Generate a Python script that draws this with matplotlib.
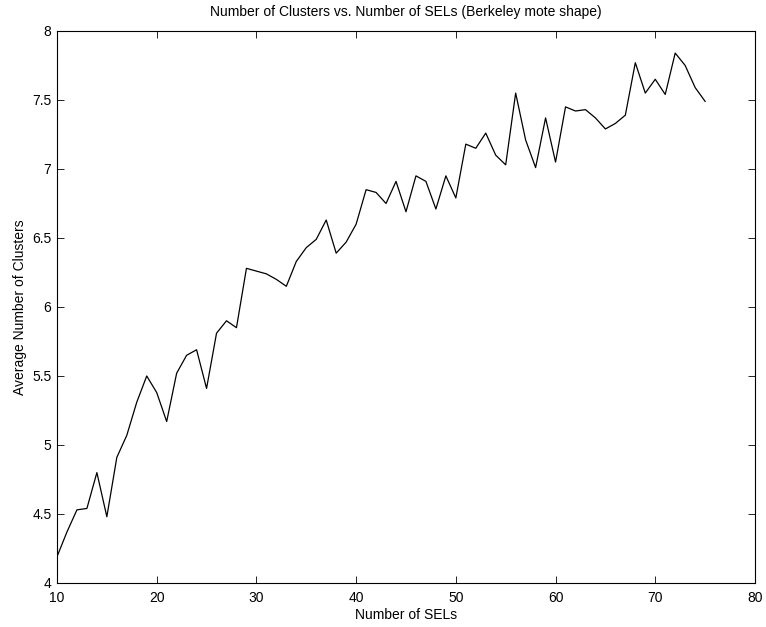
import numpy as np
import matplotlib
matplotlib.use("Agg")
import matplotlib.pyplot as plt

plt.rcParams['font.family'] = ['Liberation Sans', 'DejaVu Sans']

# number of SELs
sels = list(range(10, 76))
# average number of clusters
clusters = [4.19, 4.37, 4.53, 4.54, 4.80, 4.48, 4.91, 5.07, 5.31, 5.50,
            5.38, 5.17, 5.52, 5.65, 5.69, 5.41, 5.81, 5.90, 5.85, 6.28,
            6.26, 6.24, 6.20, 6.15, 6.33, 6.43, 6.49, 6.63, 6.39, 6.47,
            6.60, 6.85, 6.83, 6.75, 6.91, 6.69, 6.95, 6.91, 6.71, 6.95,
            6.79, 7.18, 7.15, 7.26, 7.10, 7.03, 7.55, 7.21, 7.01, 7.37,
            7.05, 7.45, 7.42, 7.43, 7.37, 7.29, 7.33, 7.39, 7.77, 7.55,
            7.65, 7.54, 7.84, 7.75, 7.59, 7.49]

fig = plt.figure(figsize=(7.66, 6.27), dpi=100)
ax = fig.add_axes([0.0744, 0.0702, 0.9112, 0.8804])
ax.plot(sels, clusters, color='black', linewidth=0.9)

ax.set_xlim(10, 80)
ax.set_ylim(4, 8)
ax.set_xticks(np.arange(10, 81, 10))
ax.set_yticks(np.arange(4, 8.01, 0.5))
ax.set_yticklabels(['4', '4.5', '5', '5.5', '6', '6.5', '7', '7.5', '8'])
ax.tick_params(direction='in', top=True, right=True, labelsize=10, length=5, width=0.6)
ax.tick_params(axis='x', pad=6)
ax.tick_params(axis='y', pad=4)
for s in ax.spines.values():
    s.set_linewidth(0.8)

ax.set_xlabel('Number of SELs', fontsize=10, labelpad=2)
ax.set_ylabel('Average Number of Clusters', fontsize=10, labelpad=4)
ax.set_title('Number of Clusters vs. Number of SELs (Berkeley mote shape)', fontsize=10, pad=11)

fig.savefig('out.png', dpi=100)
